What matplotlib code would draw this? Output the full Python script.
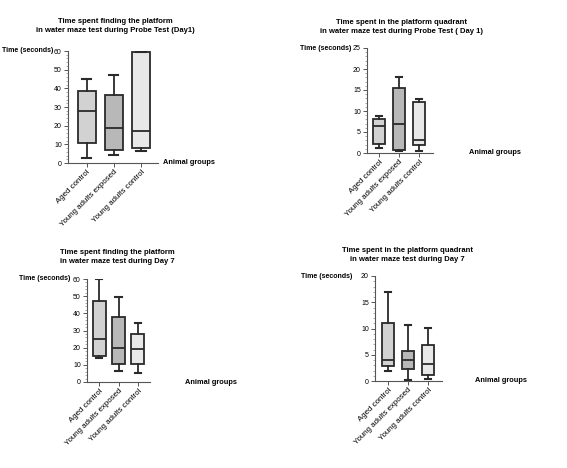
import matplotlib
matplotlib.use("Agg")
import matplotlib.pyplot as plt
from matplotlib.ticker import MultipleLocator

plt.rcParams['font.family'] = ['Liberation Sans', 'DejaVu Sans']

groups = ["Aged control", "Young adults exposed", "Young adults control"]

# Panel 1: time finding platform, probe test day 1  (whislo, q1, med, q3, whishi)
p1_whislo = [2.8, 4.1, 6.6]
p1_q1 = [10.5, 7.1, 7.8]
p1_med = [28.0, 19.0, 16.9]
p1_q3 = [38.8, 36.5, 59.6]
p1_whishi = [45.0, 47.2, 59.6]

# Panel 2: time in platform quadrant, probe test day 1
p2_whislo = [1.3, 0.4, 0.4]
p2_q1 = [2.2, 0.6, 1.8]
p2_med = [6.5, 6.9, 3.0]
p2_q3 = [8.1, 15.5, 12.2]
p2_whishi = [8.7, 18.1, 12.9]

# Panel 3: time finding platform, day 7
p3_whislo = [13.8, 6.2, 5.2]
p3_q1 = [15.1, 10.3, 10.3]
p3_med = [25.2, 20.0, 19.2]
p3_q3 = [47.0, 37.9, 28.2]
p3_whishi = [60.0, 49.5, 34.4]

# Panel 4: time in platform quadrant, day 7
p4_whislo = [1.9, 0.2, 0.4]
p4_q1 = [2.9, 2.2, 1.1]
p4_med = [4.0, 4.0, 3.2]
p4_q3 = [11.0, 5.7, 6.9]
p4_whishi = [16.9, 10.7, 10.1]

fills = ["#d2d2d2", "#b8b8b8", "#e8e8e8"]
edge = "#2a2a2a"

W, H = 567, 468
fig = plt.figure(figsize=(W / 100, H / 100), dpi=100)


def panel(rect_px, xlim, width, ymax, ystep, yminor, stats, title, title_xy,
          ylab_xy, grp_xy):
    l, t, r, b = rect_px
    ax = fig.add_axes([l / W, 1 - b / H, (r - l) / W, (b - t) / H])
    wl, q1, md, q3, wh = stats
    st = []
    for i in range(3):
        st.append(dict(med=md[i], q1=q1[i], q3=q3[i], whislo=wl[i], whishi=wh[i], fliers=[]))
    res = ax.bxp(st, positions=[1, 2, 3], widths=width, patch_artist=True,
                 showfliers=False,
                 boxprops=dict(edgecolor=edge, linewidth=1.3),
                 medianprops=dict(color=edge, linewidth=1.3),
                 whiskerprops=dict(color=edge, linewidth=1.3),
                 capprops=dict(color=edge, linewidth=1.5),
                 capwidths=width * 0.5)
    for p, c in zip(res['boxes'], fills):
        p.set_facecolor(c)
    ax.set_xlim(*xlim)
    ax.set_ylim(0, ymax)
    ax.yaxis.set_major_locator(MultipleLocator(ystep))
    ax.yaxis.set_minor_locator(MultipleLocator(yminor))
    ax.spines['top'].set_visible(False)
    ax.spines['right'].set_visible(False)
    for s in ('left', 'bottom'):
        ax.spines[s].set_color('#555555')
        ax.spines[s].set_linewidth(0.8)
    ax.tick_params(axis='y', which='major', labelsize=5, length=3, width=0.7,
                   colors='#555555', labelcolor='black', pad=1.5)
    ax.tick_params(axis='y', which='minor', length=1.8, width=0.5, colors='#888888')
    ax.tick_params(axis='x', length=3, width=0.7, colors='#555555', labelcolor='black', pad=1)
    ax.set_xticks([1, 2, 3])
    ax.set_xticklabels(groups, rotation=45, ha='right', rotation_mode='anchor', fontsize=5.7)
    fig.text(title_xy[0] / W, 1 - title_xy[1] / H, title, ha='center', va='center',
             fontsize=5.5, fontweight='bold', linespacing=1.35)
    fig.text(ylab_xy[0] / W, 1 - ylab_xy[1] / H, "Time (seconds)", ha='right', va='center',
             fontsize=5, fontweight='bold')
    fig.text(grp_xy[0] / W, 1 - grp_xy[1] / H, "Animal groups", ha='left', va='center',
             fontsize=5.3, fontweight='bold')
    return ax


panel((68, 51, 158, 163), (0.3, 3.63), 0.67, 60, 10, 2,
      (p1_whislo, p1_q1, p1_med, p1_q3, p1_whishi),
      "Time spent finding the platform\nin water maze test during Probe Test (Day1)",
      (115, 26), (53, 51), (163, 163))

panel((367, 48, 433, 153), (0.4, 3.7), 0.6, 25, 5, 1,
      (p2_whislo, p2_q1, p2_med, p2_q3, p2_whishi),
      "Time spent in the platform quadrant\nin water maze test during Probe Test ( Day 1)",
      (402, 27), (351, 48), (469, 153))

panel((87, 279, 150, 382), (0.38, 3.62), 0.67, 60, 10, 2,
      (p3_whislo, p3_q1, p3_med, p3_q3, p3_whishi),
      "Time spent finding the platform\nin water maze test during Day 7",
      (117, 257), (70, 279), (185, 382))

panel((375, 276, 442, 381), (0.35, 3.7), 0.6, 20, 5, 1,
      (p4_whislo, p4_q1, p4_med, p4_q3, p4_whishi),
      "Time spent in the platform quadrant\nin water maze test during Day 7",
      (407, 255), (352, 276), (475, 381))

fig.savefig("out.png", dpi=100)
